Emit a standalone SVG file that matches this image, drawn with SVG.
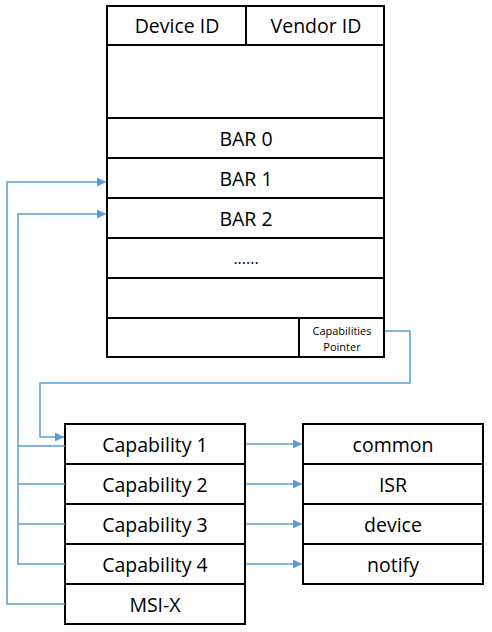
<svg xmlns="http://www.w3.org/2000/svg" width="492" height="632" viewBox="0 0 492 632">
<style>
.box{fill:#fff;stroke:#000;stroke-width:2}
.ln{fill:none;stroke:#000;stroke-width:2}
.t{font-family:"Open Sans","Noto Sans",sans-serif;font-size:19.5px;fill:#000;text-anchor:middle;dominant-baseline:central}
.s{font-family:"Open Sans","Noto Sans",sans-serif;font-size:11px;fill:#000;text-anchor:middle;dominant-baseline:central}
.c{fill:none;stroke:#5B9BD5;stroke-width:1.5}
</style>
<defs>
<marker id="ah" viewBox="0 0 10 10" refX="10" refY="5" markerWidth="10" markerHeight="9" markerUnits="userSpaceOnUse" orient="auto">
<path d="M0,0 L10,5 L0,10 z" fill="#5B9BD5"/>
</marker>
</defs>
<g id="config-space">
<rect class="box" x="107" y="6" width="277" height="351"/>
<line class="ln" x1="246" y1="6" x2="246" y2="45"/>
<line class="ln" x1="107" y1="45" x2="384" y2="45"/>
<line class="ln" x1="107" y1="118" x2="384" y2="118"/>
<line class="ln" x1="107" y1="158" x2="384" y2="158"/>
<line class="ln" x1="107" y1="198" x2="384" y2="198"/>
<line class="ln" x1="107" y1="238" x2="384" y2="238"/>
<line class="ln" x1="107" y1="278" x2="384" y2="278"/>
<line class="ln" x1="107" y1="318" x2="384" y2="318"/>
<line class="ln" x1="299" y1="318" x2="299" y2="357"/>
<text class="t" x="177" y="25">Device ID</text>
<text class="t" x="316" y="25">Vendor ID</text>
<text class="t" x="246" y="138">BAR 0</text>
<text class="t" x="246" y="178">BAR 1</text>
<text class="t" x="246" y="218">BAR 2</text>
<text class="t" x="246" y="258" style="font-size:16px">......</text>
<text class="s" x="342" y="330">Capabilities</text>
<text class="s" x="342" y="346">Pointer</text>
</g>
<g id="capabilities">
<rect class="box" x="65" y="424" width="180" height="200"/>
<line class="ln" x1="65" y1="464" x2="245" y2="464"/>
<line class="ln" x1="65" y1="504" x2="245" y2="504"/>
<line class="ln" x1="65" y1="544" x2="245" y2="544"/>
<line class="ln" x1="65" y1="584" x2="245" y2="584"/>
<text class="t" x="155" y="444">Capability 1</text>
<text class="t" x="155" y="484">Capability 2</text>
<text class="t" x="155" y="524">Capability 3</text>
<text class="t" x="155" y="564">Capability 4</text>
<text class="t" x="155" y="604">MSI-X</text>
</g>
<g id="structures">
<rect class="box" x="303" y="424" width="180" height="160"/>
<line class="ln" x1="303" y1="464" x2="483" y2="464"/>
<line class="ln" x1="303" y1="504" x2="483" y2="504"/>
<line class="ln" x1="303" y1="544" x2="483" y2="544"/>
<text class="t" x="393" y="444">common</text>
<text class="t" x="393" y="484">ISR</text>
<text class="t" x="393" y="524">device</text>
<text class="t" x="393" y="564">notify</text>
</g>
<g id="connectors">
<polyline class="c" points="385,331 410,331 410,383 40,383 40,437 64,437" marker-end="url(#ah)"/>
<polyline class="c" points="65,604 7,604 7,182 106,182" marker-end="url(#ah)"/>
<polyline class="c" points="65,564 18,564 18,214 106,214" marker-end="url(#ah)"/>
<line class="c" x1="18" y1="446" x2="65" y2="446"/>
<line class="c" x1="18" y1="484" x2="65" y2="484"/>
<line class="c" x1="18" y1="524" x2="65" y2="524"/>
<line class="c" x1="246" y1="444" x2="302" y2="444" marker-end="url(#ah)"/>
<line class="c" x1="246" y1="484" x2="302" y2="484" marker-end="url(#ah)"/>
<line class="c" x1="246" y1="524" x2="302" y2="524" marker-end="url(#ah)"/>
<line class="c" x1="246" y1="564" x2="302" y2="564" marker-end="url(#ah)"/>
</g>
</svg>
